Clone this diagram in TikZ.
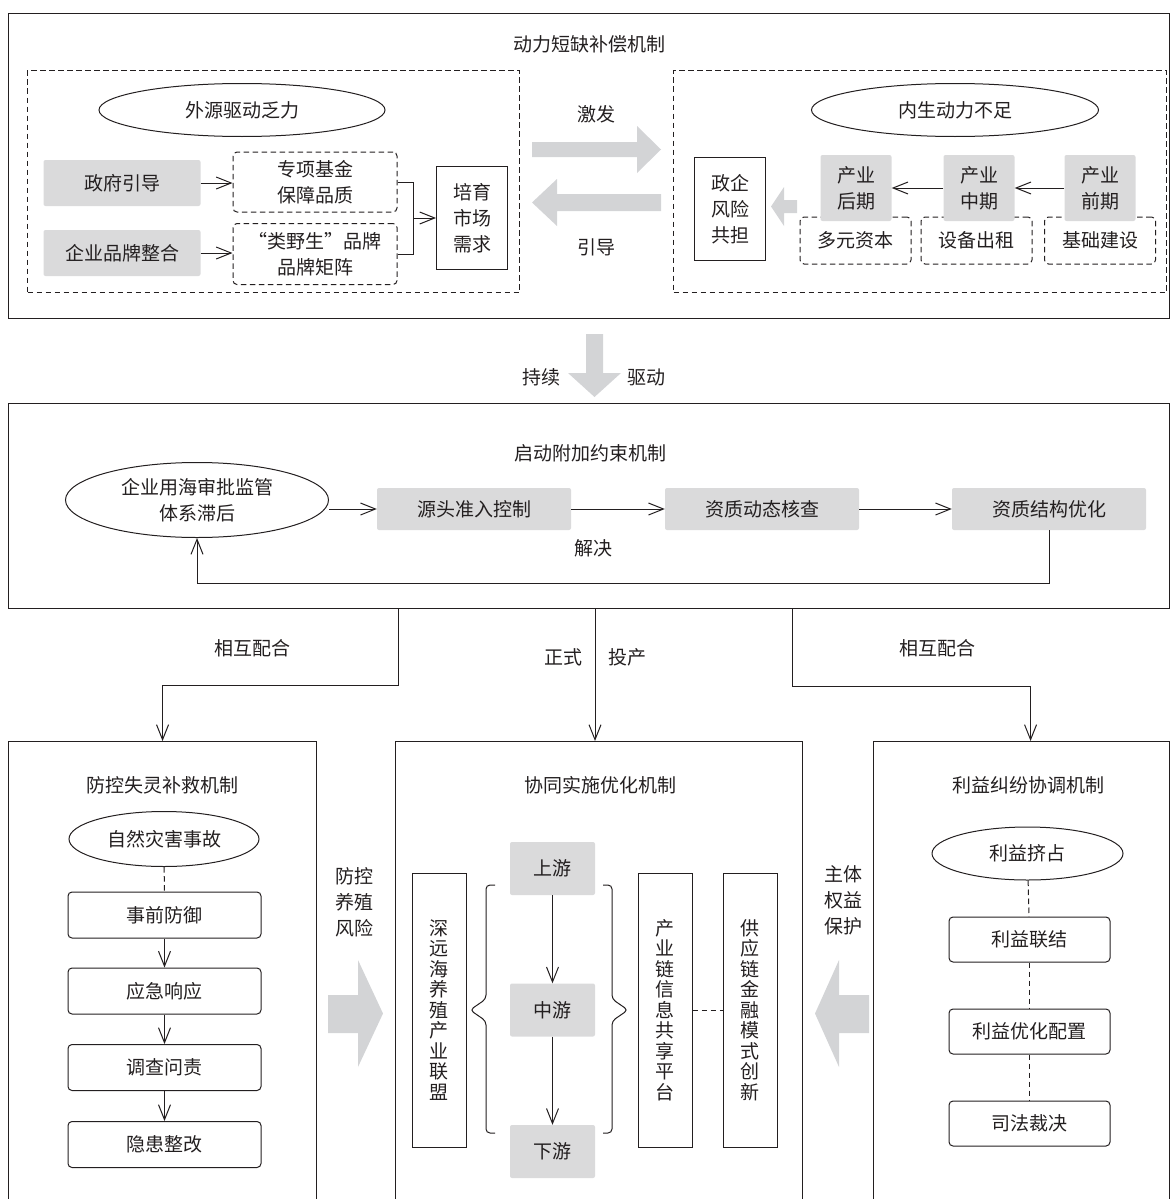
\documentclass[tikz,border=0pt]{standalone}
\usepackage{fontspec}
\setmainfont{Noto Sans CJK SC}
\usepackage{tikz}
\usetikzlibrary{shapes.geometric, arrows.meta, positioning, calc}
\definecolor{grisFond}{RGB}{218, 218, 219}
\definecolor{grisFleche}{RGB}{211, 212, 214}
\definecolor{encreNoire}{RGB}{35, 31, 32}

\begin{document}
\begin{tikzpicture}[x=1pt, y=-1pt,
  every node/.style={text=encreNoire, font=\fontsize{19}{26}\selectfont},
  frame/.style={draw=encreNoire, line width=1.1pt, anchor=north west, inner sep=0pt},
  dframe/.style={frame, line width=1pt, dash pattern=on 5.5pt off 3.5pt},
  greybox/.style={rectangle, fill=grisFond, rounded corners=2pt, align=center, inner sep=0pt},
  dashbox/.style={rectangle, draw=encreNoire, line width=1pt, dash pattern=on 5.5pt off 3.5pt,
    rounded corners=4pt, align=center, inner sep=0pt},
  plainbox/.style={rectangle, draw=encreNoire, line width=1pt, align=center, inner sep=0pt},
  roundbox/.style={plainbox, rounded corners=4pt, minimum height=46pt},
  oval/.style={ellipse, draw=encreNoire, line width=1pt, align=center, inner sep=0pt},
  vtext/.style={plainbox, minimum width=54pt, minimum height=274pt,
    font=\fontsize{19}{20.5}\selectfont},
  link/.style={draw=encreNoire, line width=1pt, -{Straight Barb[length=15pt, width=12pt]}},
  dlink/.style={draw=encreNoire, line width=1pt, dash pattern=on 5.5pt off 3.5pt},
  brace/.style={draw=encreNoire, line width=1pt, rounded corners=4pt},
  lbl/.style={align=center},
  blk/.style={fill=grisFleche},
]
\useasboundingbox (0,0) rectangle (1171,1199);

% ---- 动力短缺补偿机制
\node[frame, minimum width=1161pt, minimum height=305pt] (mechA) at (8,13) {};
\node (titleA) at (589,44) {动力短缺补偿机制};
\node[dframe, minimum width=492pt, minimum height=222pt] (outerL) at (27,70) {};
\node[oval, minimum width=286pt, minimum height=53pt] (weakOut) at (242,110) {外源驱动乏力};
\node[greybox, minimum width=157pt, minimum height=46pt] (govt)  at (122,183) {政府引导};
\node[greybox, minimum width=157pt, minimum height=46pt] (brand) at (122,253) {企业品牌整合};
\node[dashbox, minimum width=164pt, minimum height=60pt] (fund) at (315,182) {专项基金\\保障品质};
\node[dashbox, minimum width=164pt, minimum height=61pt] (wild) at (315,254) {“类野生”品牌\\品牌矩阵};
\node[plainbox, minimum width=71pt, minimum height=103pt] (market) at (472,218) {培育\\市场\\需求};
\draw[link] (govt.east) -- (govt.east -| fund.west);
\draw[link] (brand.east) -- (brand.east -| wild.west);
\draw[brace, rounded corners=0pt] (fund.east) -- ++(16,0) |- (wild.east);
\coordinate (joinL) at (413,218);
\draw[link] (joinL) -- (market.west);

\node (spark) at (596,114) {激发};
\node (guide) at (596,247) {引导};
\fill[blk] (532,142) -- (637,142) -- (637,126) -- (661,149.5) -- (637,173) -- (637,157) -- (532,157) -- cycle;
\fill[blk] (661,194) -- (557,194) -- (557,179) -- (532,202.5) -- (557,226) -- (557,211) -- (661,211) -- cycle;

\node[dframe, minimum width=493pt, minimum height=222pt] (outerR) at (673,70) {};
\node[oval, minimum width=287pt, minimum height=53pt] (weakIn) at (955,110) {内生动力不足};
\node[plainbox, minimum width=71pt, minimum height=103pt] (share) at (730,209) {政企\\风险\\共担};
\fill[blk] (797,200) -- (784,200) -- (784,187) -- (771,206.5) -- (784,226) -- (784,213) -- (797,213) -- cycle;
\node[dashbox, minimum width=111pt, minimum height=47pt] (capital) at (855.5,240.5) {多元资本};
\node[dashbox, minimum width=111pt, minimum height=47pt] (lease)   at (976.5,240.5) {设备出租};
\node[dashbox, minimum width=111pt, minimum height=47pt] (infra)   at (1100,240.5)  {基础建设};
\node[greybox, minimum width=71pt, minimum height=66pt] (late)  at (856,188)  {产业\\后期};
\node[greybox, minimum width=71pt, minimum height=66pt] (mid)   at (979,188)  {产业\\中期};
\node[greybox, minimum width=71pt, minimum height=66pt] (early) at (1100,188) {产业\\前期};
\draw[link] (mid.west) -- (late.east);
\draw[link] (early.west) -- (mid.east);

% ---- 持续驱动
\fill[blk] (586,334) -- (603,334) -- (603,373) -- (621,373) -- (594.5,397) -- (568,373) -- (586,373) -- cycle;
\node (keep)  at (541,377) {持续};
\node (drive) at (646,377) {驱动};

% ---- 启动附加约束机制
\node[frame, minimum width=1161pt, minimum height=205pt] (mechB) at (8,403) {};
\node (titleB) at (590,453) {启动附加约束机制};
\node[oval, minimum width=263pt, minimum height=75pt] (lag) at (197,500) {企业用海审批监管\\体系滞后};
\node[greybox, minimum width=194pt, minimum height=42pt] (entry) at (474,509)  {源头准入控制};
\node[greybox, minimum width=194pt, minimum height=42pt] (audit) at (762,509)  {资质动态核查};
\node[greybox, minimum width=194pt, minimum height=42pt] (optim) at (1049,509) {资质结构优化};
\draw[link] (lag.east |- entry.west) -- (entry.west);
\draw[link] (entry) -- (audit);
\draw[link] (audit) -- (optim);
\draw[link] (optim.south) -- ++(0,53) -| (lag.south);
\node (solve) at (593,548) {解决};

% ---- 下方三个机制
\node[frame, minimum width=308pt, minimum height=480pt] (rescue)  at (8,741)   {};
\node[frame, minimum width=407pt, minimum height=480pt] (synergy) at (395,741) {};
\node[frame, minimum width=296pt, minimum height=480pt] (dispute) at (873,741) {};

\coordinate (tapL) at (398,608);
\coordinate (tapM) at (595,608);
\coordinate (tapR) at (792,608);
\draw[link] (tapL) -- ++(0,77) -| (rescue.north);
\draw[link] (tapM) -- (tapM |- synergy.north);
\draw[link] (tapR) -- ++(0,78) -| ([xshift=9pt]dispute.north);
\node (coopL)  at (252,648) {相互配合};
\node (coopR)  at (937,648) {相互配合};
\node (formal) at (563,657) {正式};
\node (launch) at (627,657) {投产};

% 防控失灵补救机制
\node (titleC) at (162,785) {防控失灵补救机制};
\node[oval, minimum width=190pt, minimum height=55pt] (disaster) at (164,839) {自然灾害事故};
\node[roundbox, minimum width=193pt] (prevent) at (164.5,915)    {事前防御};
\node[roundbox, minimum width=193pt] (respond) at (164.5,991)    {应急响应};
\node[roundbox, minimum width=193pt] (inquire) at (164.5,1067.5) {调查问责};
\node[roundbox, minimum width=193pt] (rectify) at (164.5,1144.5) {隐患整改};
\draw[dlink] (disaster) -- (prevent);
\draw[link] (prevent) -- (respond);
\draw[link] (respond) -- (inquire);
\draw[link] (inquire) -- (rectify);

\node[lbl] (riskTxt) at (354,902) {防控\\养殖\\风险};
\fill[blk] (328,995) -- (358,995) -- (358,960) -- (383,1013.5) -- (358,1067) -- (358,1033) -- (328,1033) -- cycle;

% 协同实施优化机制
\node (titleD) at (600,785) {协同实施优化机制};
\node[vtext] (alliance) at (439,1010) {深\\远\\海\\养\\殖\\产\\业\\联\\盟};
\node[greybox, minimum width=85pt, minimum height=53pt] (up)        at (552.5,868.5)  {上游};
\node[greybox, minimum width=85pt, minimum height=53pt] (midstream) at (552.5,1010)   {中游};
\node[greybox, minimum width=85pt, minimum height=53pt] (down)      at (552.5,1151.5) {下游};
\draw[link] (up) -- (midstream);
\draw[link] (midstream) -- (down);
\draw[brace] (495,885) -- (486,885) -- (486,999) -- (470,1010) -- (486,1021) -- (486,1133) -- (495,1133);
\draw[brace] (603,885) -- (612,885) -- (612,999) -- (628,1010) -- (612,1021) -- (612,1133) -- (603,1133);
\node[vtext] (infoHub) at (665,1010) {产\\业\\链\\信\\息\\共\\享\\平\\台};
\node[vtext] (finance) at (750,1010) {供\\应\\链\\金\\融\\模\\式\\创\\新};
\draw[dlink] (infoHub) -- (finance);

% 利益纠纷协调机制
\node (titleE) at (1028,785) {利益纠纷协调机制};
\node[oval, minimum width=191pt, minimum height=53pt] (squeeze) at (1027.5,853.5) {利益挤占};
\node[roundbox, minimum width=161pt, minimum height=45pt] (bond)  at (1029.5,939.5)  {利益联结};
\node[roundbox, minimum width=161pt, minimum height=45pt] (alloc) at (1029.5,1031.5) {利益优化配置};
\node[roundbox, minimum width=161pt, minimum height=45pt] (judge) at (1029.5,1123.5) {司法裁决};
\draw[dlink] (squeeze) -- (bond);
\draw[dlink] (bond) -- (alloc);
\draw[dlink] (alloc) -- (judge);

\node[lbl] (rightsTxt) at (843,900) {主体\\权益\\保护};
\fill[blk] (869,995) -- (839,995) -- (839,960) -- (815,1013.5) -- (839,1067) -- (839,1033) -- (869,1033) -- cycle;
\end{tikzpicture}
\end{document}
